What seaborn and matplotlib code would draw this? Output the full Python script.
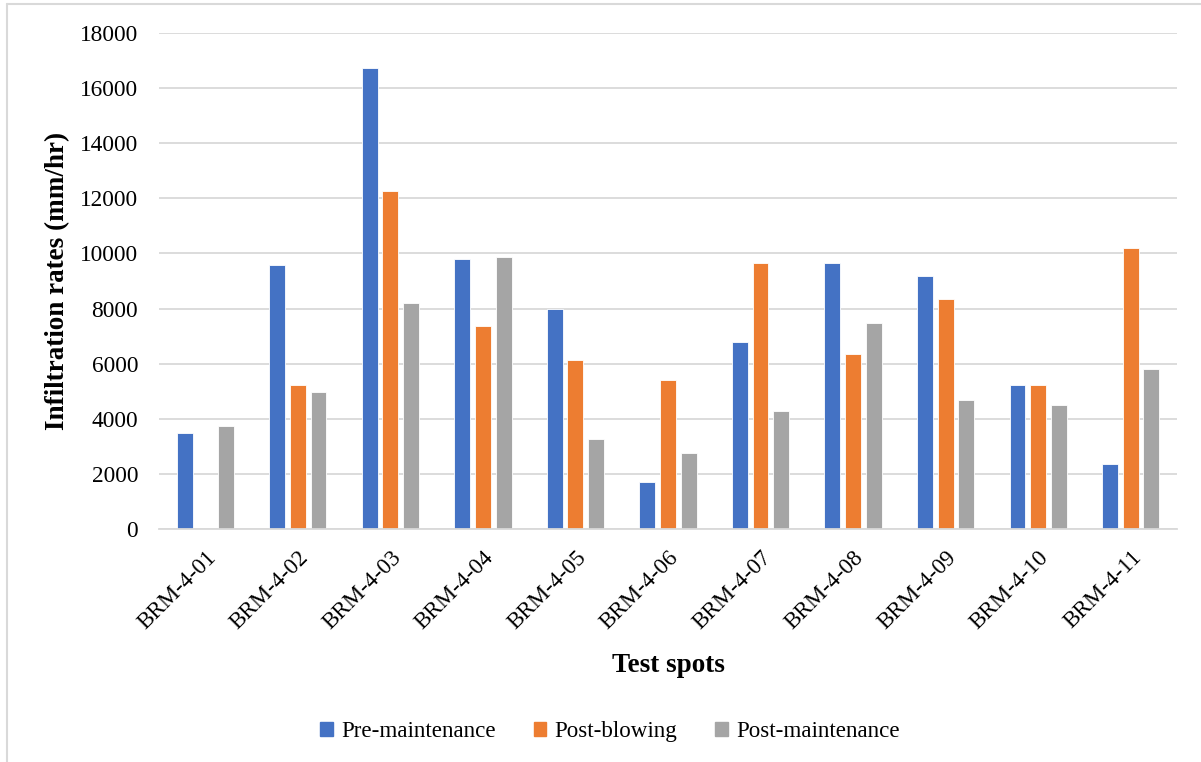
import matplotlib
matplotlib.use("Agg")
import matplotlib.pyplot as plt
from matplotlib.lines import Line2D
import pandas as pd
import seaborn as sns

# Test spots and infiltration rates (mm/hr) for each measurement stage
spots = ["BRM-4-01", "BRM-4-02", "BRM-4-03", "BRM-4-04", "BRM-4-05", "BRM-4-06",
         "BRM-4-07", "BRM-4-08", "BRM-4-09", "BRM-4-10", "BRM-4-11"]
pre_maintenance = [3480, 9570, 16720, 9780, 7980, 1690, 6800, 9660, 9180, 5220, 2370]
post_blowing = [0, 5220, 12260, 7350, 6130, 5390, 9660, 6340, 8340, 5220, 10210]
post_maintenance = [3740, 4960, 8200, 9880, 3260, 2740, 4280, 7460, 4680, 4490, 5810]

series_names = ["Pre-maintenance", "Post-blowing", "Post-maintenance"]
colors = ["#4472C4", "#ED7D31", "#A5A5A5"]
y_ticks = list(range(0, 18001, 2000))

df = pd.DataFrame({
    "spot": spots * 3,
    "rate": pre_maintenance + post_blowing + post_maintenance,
    "series": [s for s in series_names for _ in spots],
})

sns.set_theme(style="white")
plt.rcParams["font.family"] = ["Liberation Serif", "DejaVu Serif"]
plt.rcParams["text.color"] = "black"
plt.rcParams["axes.labelcolor"] = "black"
plt.rcParams["xtick.color"] = "black"
plt.rcParams["ytick.color"] = "black"

fig = plt.figure(figsize=(12.01, 7.62), dpi=100)
ax = fig.add_axes([0.1324, 0.3058, 0.8476, 0.6509])

sns.barplot(data=df, x="spot", y="rate", hue="series", hue_order=series_names,
            palette=colors, saturation=1, width=0.67, gap=0.23,
            edgecolor="white", linewidth=0.6, errorbar=None, ax=ax)

ax.set_ylim(0, 18000)
ax.set_yticks(y_ticks)
ax.set_yticklabels([str(t) for t in y_ticks], fontsize=16.8)
ax.yaxis.grid(True, color="#D9D9D9", linewidth=1.3)
ax.set_axisbelow(True)
for side in ["top", "right", "left"]:
    ax.spines[side].set_visible(False)
ax.spines["bottom"].set_color("#D9D9D9")
ax.spines["bottom"].set_linewidth(1.3)
ax.tick_params(axis="both", length=0)
ax.tick_params(axis="y", pad=15)
ax.tick_params(axis="x", pad=13)

ax.set_xticks(range(len(spots)))
ax.set_xticklabels(spots, rotation=45, ha="right", rotation_mode="anchor", fontsize=16.6)

ax.set_xlabel("Test spots", fontsize=19.5, fontweight="bold", labelpad=14)
ax.set_ylabel("Infiltration rates (mm/hr)", fontsize=19.5, fontweight="bold", labelpad=7)

ax.legend_.remove()
handles = [plt.Rectangle((0, 0), 1, 1, color=c) for c in colors]
fig.legend(handles, series_names, loc="center", bbox_to_anchor=(0.508, 0.04),
           ncol=3, frameon=False, fontsize=16.6, handlelength=0.55, handleheight=0.55,
           handletextpad=0.35, columnspacing=1.65)

# Chart-area border (left and top edges)
fig.add_artist(Line2D([0.006, 0.006], [0, 0.995], transform=fig.transFigure,
                      color="#D9D9D9", linewidth=1.5))
fig.add_artist(Line2D([0.006, 1.0], [0.995, 0.995], transform=fig.transFigure,
                      color="#D9D9D9", linewidth=1.5))

fig.savefig("out.png", dpi=100, facecolor="white")
